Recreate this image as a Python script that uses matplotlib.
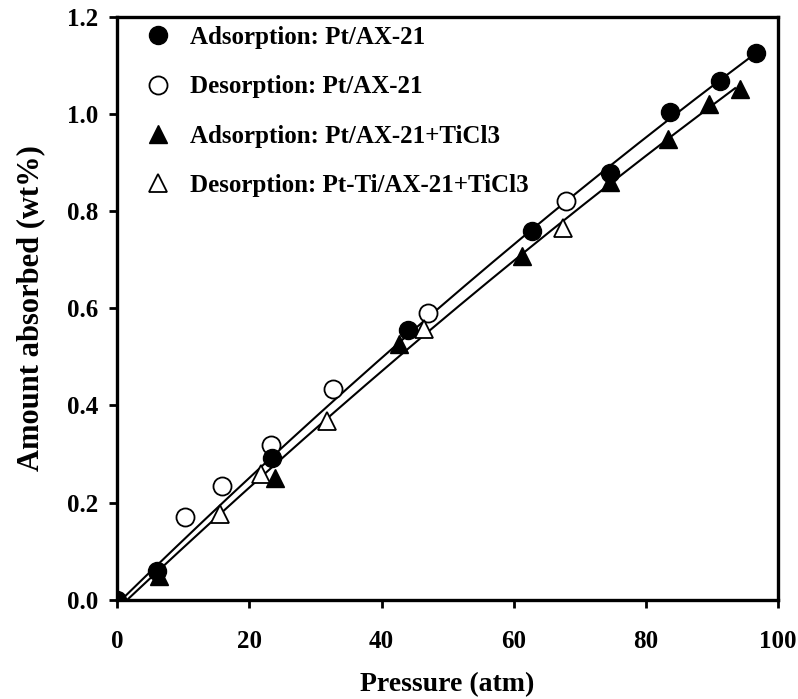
import numpy as np
import matplotlib
matplotlib.use("Agg")
import matplotlib.pyplot as plt

plt.rcParams['font.family'] = ['Liberation Serif', 'DejaVu Serif']
plt.rcParams['font.weight'] = 'bold'

# Adsorption: Pt/AX-21 (filled circles)
ads_pt_x = [0.0, 6.0, 23.4, 44.0, 62.7, 74.5, 83.7, 91.2, 96.7]
ads_pt_y = [0.0, 0.060, 0.292, 0.556, 0.759, 0.879, 1.003, 1.068, 1.125]

# Desorption: Pt/AX-21 (open circles)
des_pt_x = [10.3, 15.9, 23.3, 32.6, 47.0, 67.9]
des_pt_y = [0.170, 0.234, 0.318, 0.434, 0.591, 0.821]

# Adsorption: Pt/AX-21+TiCl3 (filled triangles)
ads_ti_x = [0.0, 6.3, 23.9, 42.6, 61.2, 74.6, 83.4, 89.6, 94.3]
ads_ti_y = [0.0, 0.048, 0.251, 0.526, 0.707, 0.859, 0.948, 1.021, 1.052]

# Desorption: Pt-Ti/AX-21+TiCl3 (open triangles)
des_ti_x = [15.6, 21.8, 31.8, 46.4, 67.5]
des_ti_y = [0.177, 0.258, 0.368, 0.557, 0.766]

fig = plt.figure(figsize=(7.98, 6.99), dpi=100)
ax = fig.add_axes([0.147, 0.142, 0.828, 0.834])

# fitted curves through the adsorption data
for xs, ys, x_end in [(ads_pt_x, ads_pt_y, 96.7), (ads_ti_x, ads_ti_y, 93.5)]:
    coef = np.polyfit(xs, ys, 2)
    xf = np.linspace(0, x_end, 200)
    ax.plot(xf, np.polyval(coef, xf), color='black', lw=1.5, zorder=2)

ms = 13
ax.plot(ads_pt_x, ads_pt_y, 'o', color='black', ms=ms, ls='none',
        label='Adsorption: Pt/AX-21', zorder=4)
ax.plot(des_pt_x, des_pt_y, 'o', mfc='white', mec='black', mew=1.3, ms=ms,
        ls='none', label='Desorption: Pt/AX-21', zorder=3)
ax.plot(ads_ti_x, ads_ti_y, '^', color='black', ms=ms, ls='none',
        label='Adsorption: Pt/AX-21+TiCl3', zorder=3)
ax.plot(des_ti_x, des_ti_y, '^', mfc='white', mec='black', mew=1.3, ms=ms,
        ls='none', label='Desorption: Pt-Ti/AX-21+TiCl3', zorder=3)

ax.set_xlim(0, 100)
ax.set_ylim(0, 1.2)
ax.set_xticks([0, 20, 40, 60, 80, 100])
ax.set_yticks([0.0, 0.2, 0.4, 0.6, 0.8, 1.0, 1.2])
ax.set_yticklabels(['0.0', '0.2', '0.4', '0.6', '0.8', '1.0', '1.2'])

for sp in ax.spines.values():
    sp.set_linewidth(2.4)
ax.tick_params(direction='out', length=5.5, width=2, labelsize=18)
ax.tick_params(axis='x', pad=16)
ax.tick_params(axis='y', pad=8)
for lab in ax.get_xticklabels() + ax.get_yticklabels():
    lab.set_fontweight('bold')

ax.set_xlabel('Pressure (atm)', fontsize=20, fontweight='bold', labelpad=14)
ax.set_ylabel('Amount absorbed (wt%)', fontsize=22, fontweight='bold', labelpad=16)

leg = ax.legend(loc='upper left', frameon=False,
                prop={'weight': 'bold', 'size': 18}, handletextpad=0.8,
                labelspacing=1.05, borderpad=0, borderaxespad=0,
                handlelength=1.0, bbox_to_anchor=(0.042, 0.984))

fig.savefig('out.png', dpi=100)
